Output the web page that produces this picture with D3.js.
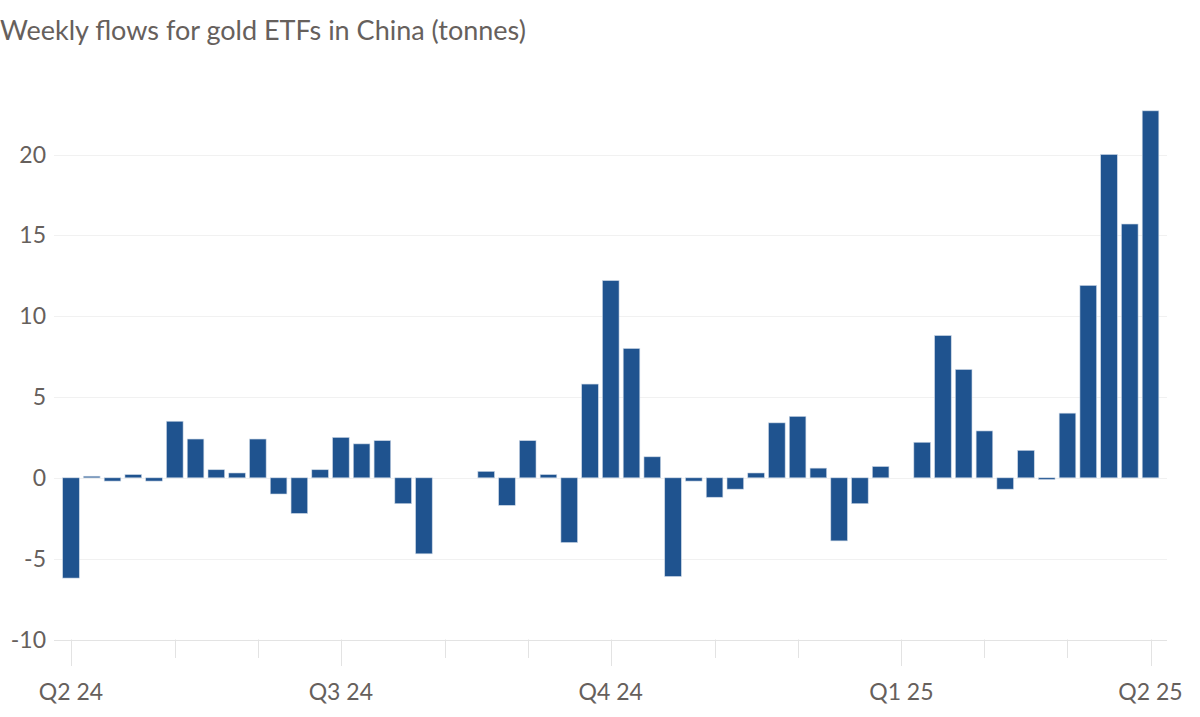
<!DOCTYPE html>
<html>
<head>
<meta charset="utf-8">
<script src="https://cdn.jsdelivr.net/npm/d3@7"></script>
<style>
  html, body { margin: 0; padding: 0; background: #ffffff; }
  svg { display: block; }
  text { font-family: "Lato", "Open Sans", sans-serif; fill: #66605c; }
</style>
</head>
<body>
<svg id="chart" width="1200" height="717"></svg>
<script>
// ---- data ----
const weeks = [
  "2024-04-02","2024-04-09","2024-04-16","2024-04-23","2024-04-30",
  "2024-05-07","2024-05-14","2024-05-21","2024-05-28",
  "2024-06-04","2024-06-11","2024-06-18","2024-06-25",
  "2024-07-02","2024-07-09","2024-07-16","2024-07-23","2024-07-30",
  "2024-08-06","2024-08-13","2024-08-20","2024-08-27",
  "2024-09-03","2024-09-10","2024-09-17","2024-09-24",
  "2024-10-01","2024-10-08","2024-10-15","2024-10-22","2024-10-29",
  "2024-11-05","2024-11-12","2024-11-19","2024-11-26",
  "2024-12-03","2024-12-10","2024-12-17","2024-12-24","2024-12-31",
  "2025-01-07","2025-01-14","2025-01-21","2025-01-28",
  "2025-02-04","2025-02-11","2025-02-18","2025-02-25",
  "2025-03-04","2025-03-11","2025-03-18","2025-03-25",
  "2025-04-01"
];
const flows = [
  -6.2, 0.1, -0.2, 0.2, -0.2,
  3.5, 2.4, 0.5, 0.3,
  2.4, -1.0, -2.2, 0.5,
  2.5, 2.1, 2.3, -1.6, -4.7,
  null, null, 0.4, -1.7,
  2.3, 0.2, -4.0, 5.8,
  12.2, 8.0, 1.3, -6.1, -0.2,
  -1.2, -0.7, 0.3, 3.4,
  3.8, 0.6, -3.9, -1.6, 0.7,
  null, 2.2, 8.8, 6.7,
  2.9, -0.7, 1.7, -0.1,
  4.0, 11.9, 20.0, 15.7,
  22.7
];
const yTicks = [-10, -5, 0, 5, 10, 15, 20];
const monthTicks = ["2024-04-02","2024-05-07","2024-06-04","2024-07-02","2024-08-06","2024-09-03",
  "2024-10-01","2024-11-05","2024-12-03","2025-01-07","2025-02-04","2025-03-04","2025-04-01"];
const quarterTicks = ["2024-04-02","2024-07-02","2024-10-01","2025-01-07","2025-04-01"];
const quarterLabels = ["Q2 24","Q3 24","Q4 24","Q1 25","Q2 25"];
const title = "Weekly flows for gold ETFs in China (tonnes)";

// ---- chart ----
const svg = d3.select("#chart");
const plotLeft = 54, plotRight = 1167;

const x = d3.scaleBand()
  .domain(weeks)
  .range([60.6, 1160.9])
  .paddingInner(0.2)
  .paddingOuter(0.1);

const y = d3.scaleLinear()
  .domain([-10, 20])
  .range([639.5, 154.5]);

// title
svg.append("text")
  .attr("x", 0)
  .attr("y", 40)
  .style("font-size", "27px")
  .text(title);

// gridlines
svg.append("g")
  .selectAll("line")
  .data(yTicks)
  .join("line")
  .attr("x1", plotLeft)
  .attr("x2", plotRight)
  .attr("y1", d => Math.round(y(d)) + 0.5)
  .attr("y2", d => Math.round(y(d)) + 0.5)
  .attr("stroke", d => d === -10 ? "#e3e3e3" : "#f1f1f1")
  .attr("stroke-width", 1);

// y labels
svg.append("g")
  .selectAll("text")
  .data(yTicks)
  .join("text")
  .attr("x", 46)
  .attr("y", d => y(d))
  .attr("dy", "0.35em")
  .attr("text-anchor", "end")
  .style("font-size", "23px")
  .text(d => d);

// bars
const data = weeks.map((w, i) => ({ w, v: flows[i] })).filter(d => d.v !== null);
svg.append("g")
  .selectAll("rect")
  .data(data)
  .join("rect")
  .attr("x", d => x(d.w))
  .attr("width", x.bandwidth())
  .attr("y", d => y(Math.max(0, d.v)))
  .attr("height", d => Math.abs(y(d.v) - y(0)))
  .attr("fill", "#1f538f")
  .attr("stroke", "#c9d5e4")
  .attr("stroke-width", 0.6);

// x ticks
const isQuarter = d => quarterTicks.includes(d);
svg.append("g")
  .selectAll("line")
  .data(monthTicks)
  .join("line")
  .attr("x1", d => Math.round(x(d) + x.bandwidth() / 2) + 0.5)
  .attr("x2", d => Math.round(x(d) + x.bandwidth() / 2) + 0.5)
  .attr("y1", y(-10))
  .attr("y2", d => isQuarter(d) ? 666 : 658)
  .attr("stroke", "#e3e3e3")
  .attr("stroke-width", 1);

// x labels
svg.append("g")
  .selectAll("text")
  .data(quarterTicks)
  .join("text")
  .attr("x", d => x(d) + x.bandwidth() / 2)
  .attr("y", 700)
  .attr("text-anchor", "middle")
  .style("font-size", "23px")
  .text((d, i) => quarterLabels[i]);
</script>
</body>
</html>
